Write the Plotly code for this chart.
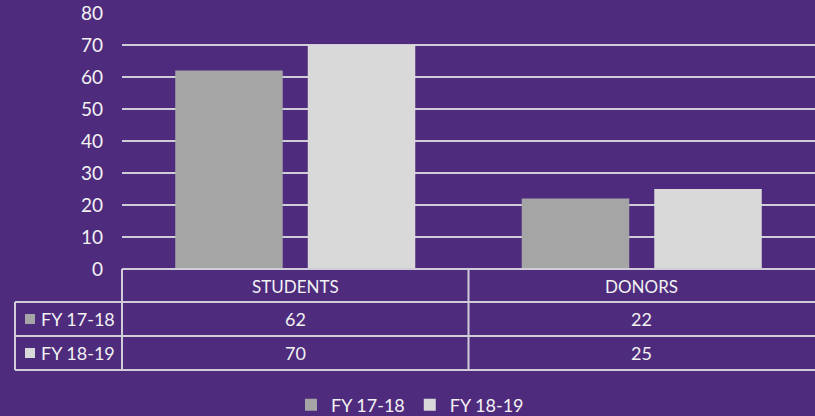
import plotly.graph_objects as go

categories = ["STUDENTS", "DONORS"]
series_names = ["FY 17-18", "FY 18-19"]
fy1718 = [62, 22]
fy1819 = [70, 25]
y_ticks = [0, 10, 20, 30, 40, 50, 60, 70, 80]

BG = "#4F2B7E"
C1 = "#A5A5A5"
C2 = "#D9D9D9"
LINE = "#D0CCD8"
TXT = "#F2F2F2"
FONT = "Lato"

fig = go.Figure()
for name, vals, col in zip(series_names, [fy1718, fy1819], [C1, C2]):
    fig.add_trace(go.Bar(x=categories, y=vals, name=name, marker=dict(color=col, line=dict(width=0))))

W, H = 815, 416
L, R, T, B = 122, 0, 13, 147
pw, ph = W - L - R, H - T - B

def px(x):
    return (x - L) / pw

def py(y):
    return (H - B - y) / ph

shapes = []
line = dict(color=LINE, width=2)
shapes.append(dict(type="line", xref="paper", yref="paper", x0=px(122), x1=1, y0=py(269), y1=py(269), line=line))
for yy in [302, 336, 370]:
    shapes.append(dict(type="line", xref="paper", yref="paper", x0=px(15), x1=1, y0=py(yy), y1=py(yy), line=line))
shapes.append(dict(type="line", xref="paper", yref="paper", x0=px(15), x1=px(15), y0=py(302), y1=py(370), line=line))
shapes.append(dict(type="line", xref="paper", yref="paper", x0=0, x1=0, y0=py(269), y1=py(370), line=line))
shapes.append(dict(type="line", xref="x", yref="paper", x0=0.5, x1=0.5, y0=py(269), y1=py(370), line=line))

annotations = []
row_px = [319, 353]
for i, cat in enumerate(categories):
    annotations.append(dict(x=cat, y=py(286), xref="x", yref="paper", text=cat, showarrow=False,
                            yanchor="middle", font=dict(family=FONT, size=17, color=TXT)))
    for r, vals in enumerate([fy1718, fy1819]):
        annotations.append(dict(x=cat, y=py(row_px[r]), xref="x", yref="paper", text=str(vals[i]), showarrow=False,
                                yanchor="middle", font=dict(family=FONT, size=18, color=TXT)))
for r, (name, col) in enumerate(zip(series_names, [C1, C2])):
    cy = row_px[r]
    shapes.append(dict(type="rect", xref="paper", yref="paper", x0=px(25), x1=px(35), y0=py(cy - 5), y1=py(cy + 5),
                       fillcolor=col, line=dict(width=0)))
    annotations.append(dict(x=px(39), y=py(cy), xref="paper", yref="paper", text=name, showarrow=False,
                            xanchor="left", yanchor="middle", font=dict(family=FONT, size=18, color=TXT)))

fig.update_layout(
    width=W, height=H,
    margin=dict(l=L, r=R, t=T, b=B, autoexpand=False),
    paper_bgcolor=BG, plot_bgcolor=BG,
    barmode="group", bargap=0.235, bargroupgap=0.189,
    font=dict(family=FONT, color=TXT, size=18),
    xaxis=dict(showticklabels=False, showgrid=False, zeroline=False, showline=False, ticks=""),
    yaxis=dict(range=[0, 80], tickvals=y_ticks, showgrid=True, gridcolor=LINE, gridwidth=2,
               zeroline=False, showline=False, ticks="", ticklabelstandoff=18, automargin=False,
               tickfont=dict(family=FONT, size=19, color=TXT)),
    legend=dict(orientation="h", x=px(410), xanchor="center", y=py(405), yanchor="middle",
                font=dict(family=FONT, size=18, color=TXT), bgcolor="rgba(0,0,0,0)", itemwidth=30),
    shapes=shapes, annotations=annotations,
)
fig.write_html("out.html")
